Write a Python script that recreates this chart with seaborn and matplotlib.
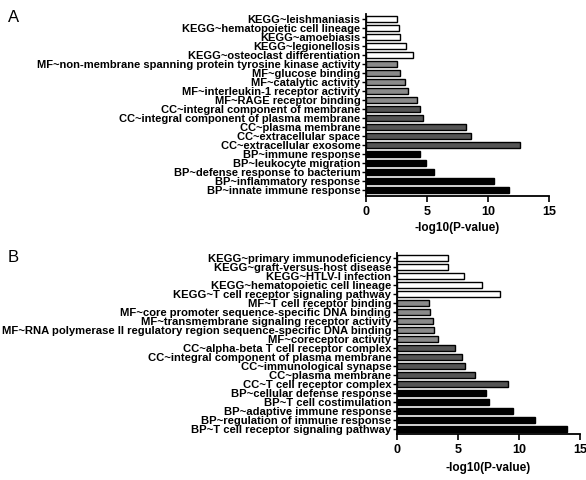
import pandas as pd
import matplotlib
matplotlib.use('Agg')
import matplotlib.pyplot as plt
import seaborn as sns

# Panel A terms (top to bottom)
terms_a = [
    'KEGG~leishmaniasis',
    'KEGG~hematopoietic cell lineage',
    'KEGG~amoebiasis',
    'KEGG~legionellosis',
    'KEGG~osteoclast differentiation',
    'MF~non-membrane spanning protein tyrosine kinase activity',
    'MF~glucose binding',
    'MF~catalytic activity',
    'MF~interleukin-1 receptor activity',
    'MF~RAGE receptor binding',
    'CC~integral component of membrane',
    'CC~integral component of plasma membrane',
    'CC~plasma membrane',
    'CC~extracellular space',
    'CC~extracellular exosome',
    'BP~immune response',
    'BP~leukocyte migration',
    'BP~defense response to bacterium',
    'BP~inflammatory response',
    'BP~innate immune response',
]
values_a = [2.57, 2.7, 2.75, 3.3, 3.85, 2.5, 2.8, 3.17, 3.44, 4.18,
            4.43, 4.65, 8.2, 8.63, 12.6, 4.43, 4.92, 5.55, 10.5, 11.75]

# Panel B terms (top to bottom)
terms_b = [
    'KEGG~primary immunodeficiency',
    'KEGG~graft-versus-host disease',
    'KEGG~HTLV-I infection',
    'KEGG~hematopoietic cell lineage',
    'KEGG~T cell receptor signaling pathway',
    'MF~T cell receptor binding',
    'MF~core promoter sequence-specific DNA binding',
    'MF~transmembrane signaling receptor activity',
    'MF~RNA polymerase II regulatory region sequence-specific DNA binding',
    'MF~coreceptor activity',
    'CC~alpha-beta T cell receptor complex',
    'CC~integral component of plasma membrane',
    'CC~immunological synapse',
    'CC~plasma membrane',
    'CC~T cell receptor complex',
    'BP~cellular defense response',
    'BP~T cell costimulation',
    'BP~adaptive immune response',
    'BP~regulation of immune response',
    'BP~T cell receptor signaling pathway',
]
values_b = [4.2, 4.23, 5.5, 6.95, 8.45, 2.64, 2.75, 2.97, 3.05, 3.38,
            4.77, 5.32, 5.61, 6.38, 9.1, 7.28, 7.53, 9.55, 11.35, 13.9]

xticks = [0, 5, 10, 15]
colors = {'KEGG': 'white', 'MF': '#8a8a8a', 'CC': '#555555', 'BP': 'black'}

sns.set_style('ticks')
plt.rcParams['font.family'] = ['Liberation Sans', 'DejaVu Sans']
plt.rcParams['text.color'] = 'black'
plt.rcParams['xtick.color'] = 'black'
plt.rcParams['ytick.color'] = 'black'
plt.rcParams['axes.labelcolor'] = 'black'
plt.rcParams['axes.edgecolor'] = 'black'

fig = plt.figure(figsize=(5.86, 4.8), dpi=100)
ax_a = fig.add_axes([366 / 586, 1 - 196 / 480, 183 / 586, 181.7 / 480])
ax_b = fig.add_axes([396.7 / 586, 1 - 434 / 480, 183.3 / 586, 180.7 / 480])


def draw(ax, terms, values, letter, ly, fs, label_y, pad_bottom):
    df = pd.DataFrame({'term': terms, 'value': values})
    df['group'] = df['term'].str.split('~').str[0]
    sns.barplot(data=df, y='term', x='value', hue='group', palette=colors,
                dodge=False, orient='h', width=0.65, edgecolor='black',
                linewidth=1.0, legend=False, ax=ax)
    ax.set_xlim(0, 15)
    ax.set_ylim(len(terms) - 1 + pad_bottom, -0.5)
    ax.set_xticks(xticks)
    ax.set_xticklabels([str(t) for t in xticks], fontsize=9, fontweight='bold')
    ax.set_yticks(range(len(terms)))
    ax.set_yticklabels(terms, fontsize=fs, fontweight='bold')
    ax.tick_params(axis='y', length=3, width=1, pad=1)
    ax.tick_params(axis='x', length=4, width=1.2, pad=3)
    ax.set_ylabel('')
    ax.set_xlabel('-log10(P-value)', fontsize=8.5, fontweight='bold', va='center')
    ax.xaxis.set_label_coords(0.5, label_y)
    for s in ['top', 'right']:
        ax.spines[s].set_visible(False)
    for s in ['left', 'bottom']:
        ax.spines[s].set_linewidth(1.3)
    fig.text(8 / 586, 1 - ly / 480, letter, fontsize=12, va='center', ha='left')


draw(ax_a, terms_a, values_a, 'A', 18, 8, -0.178, 0.7)
draw(ax_b, terms_b, values_b, 'B', 258, 8.1, -0.19, 0.58)

fig.savefig('out.png', dpi=100)
